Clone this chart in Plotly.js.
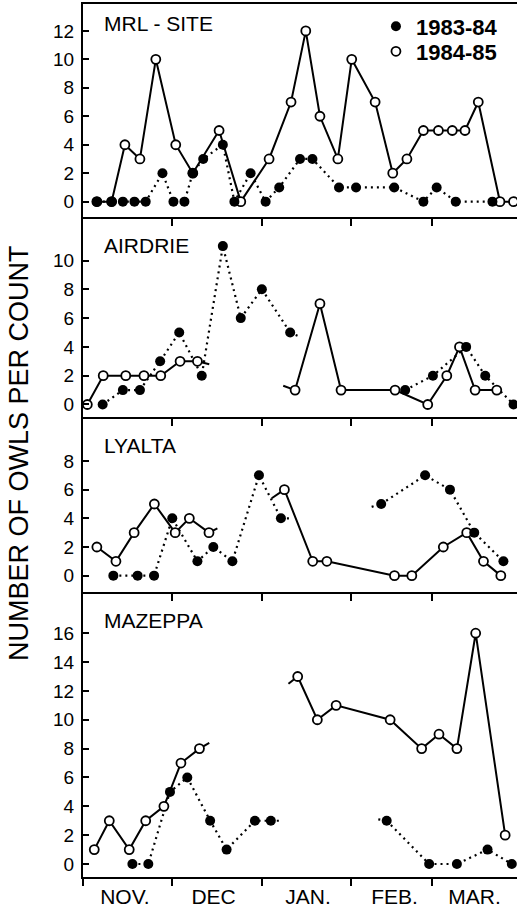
<!DOCTYPE html>
<html>
<head>
<meta charset="utf-8">
<script src="https://cdn.plot.ly/plotly-3.0.1.min.js"></script>
<style>html,body{margin:0;padding:0;background:#fff;}#chart{width:517px;height:910px;}</style>
</head>
<body>
<div id="chart"></div>
<script>
// x = days since 1 November; null = break in the series
const months = ['NOV.', 'DEC', 'JAN.', 'FEB.', 'MAR.'];
const monthLabelDays = [13.7, 44.4, 77.1, 107, 134.7];
const monthStartDays = [30, 61, 92, 120];
const panelNames = ['MRL - SITE', 'AIRDRIE', 'LYALTA', 'MAZEPPA'];
const seasonNames = ['1983-84', '1984-85'];

// MRL-SITE
const mrl83Days = [4.0, 9.1, 13.0, 17.0, 20.9, 26.7, 30.5, 34.3, 37.2, 40.8, 47.6, 51.6, 57.2, 62.4, 67.1, 74.3, 78.6, 87.8, 93.7, 106.9, 117.0, 121.6, 128.2, 140.9];
const mrl83 = [0, 0, 0, 0, 0, 2, 0, 0, 2, 3, 4, 0, 2, 0, 1, 3, 3, 1, 1, 1, 0, 1, 0, 0];
const mrl84Days = [4.0, 9.1, 13.7, 18.9, 24.4, 31.3, 37.2, 46.3, 53.8, 63.6, 71.2, 76.3, 81.2, 87.4, 92.2, 100.3, 106.4, 111.3, 117.0, 122.2, 127.0, 131.4, 136.0, 143.5, 148.2];
const mrl84 = [0, 0, 4, 3, 10, 4, 2, 5, 0, 3, 7, 12, 6, 3, 10, 7, 2, 3, 5, 5, 5, 5, 7, 0, 0];
const mrl83StubDays = [], mrl83StubCounts = [], mrl84StubDays = [], mrl84StubCounts = [];

// AIRDRIE
const air83Days = [6.0, 13.0, 18.9, 25.9, 32.5, 40.3, 47.6, 53.8, 61.1, 70.9, null, 110.7, 120.3, 131.8, 138.4, 148.2];
const air83 = [0, 1, 1, 3, 5, 2, 11, 6, 8, 5, null, 1, 2, 4, 2, 0];
const air83StubDays = [70.9, 74.3];
const air83StubCounts = [5, 4.7];
const air84Days = [0.7, 6.2, 14.0, 20.3, 26.1, 32.8, 38.8, null, 72.6, 81.2, 88.5, 107.2, 118.5, 125.1, 129.5, 134.9, 142.4];
const air84 = [0, 2, 2, 2, 2, 3, 3, null, 1, 7, 1, 1, 0, 2, 4, 1, 1];
const air84StubDays = [38.8, 42.9, null, 68.5, 72.6];
const air84StubCounts = [3, 2.8, null, 1.3, 1];

// LYALTA
const lya83Days = [9.7, 18.1, 23.8, 30.1, 38.8, 44.3, 50.9, 60.1, 67.7, null, 102.4, 117.6, 126.2, 134.6, 144.7];
const lya83 = [0, 0, 0, 4, 1, 2, 1, 7, 4, null, 5, 7, 6, 3, 1];
const lya83StubDays = [67.7, 70.9, null, 99.1, 102.4];
const lya83StubCounts = [4, 4, null, 4.8, 5];
const lya84Days = [4.0, 10.6, 16.9, 23.9, 31.1, 36.0, 42.8, null, 68.9, 78.7, 83.6, 107.0, 113.0, 123.9, 132.0, 137.8, 143.8];
const lya84 = [2, 1, 3, 5, 3, 4, 3, null, 6, 1, 1, 0, 0, 2, 3, 1, 0];
const lya84StubDays = [42.8, 45.7, null, 64.5, 68.9];
const lya84StubCounts = [3, 3.3, null, 5.4, 6];

// MAZEPPA
const maz83Days = [16.3, 21.8, 29.3, 35.3, 43.2, 48.9, 58.7, 64.2, null, 104.3, 119.0, 128.6, 139.2, 147.6];
const maz83 = [0, 0, 5, 6, 3, 1, 3, 3, null, 3, 0, 0, 1, 0];
const maz83StubDays = [64.2, 67.6, null, 101.4, 104.3];
const maz83StubCounts = [3, 3, null, 3.1, 3];
const maz84Days = [3.1, 8.3, 15.2, 20.9, 27.2, 33.1, 39.5, null, 73.5, 80.3, 86.8, 105.5, 116.4, 122.4, 128.6, 135.1, 145.3];
const maz84 = [1, 3, 1, 3, 4, 7, 8, null, 13, 10, 11, 10, 8, 9, 8, 16, 2];
const maz84StubDays = [39.5, 42.9, null, 70.3, 73.5];
const maz84StubCounts = [8, 8.4, null, 12.5, 13];

const yTicks = [[0,2,4,6,8,10,12], [0,2,4,6,8,10], [0,2,4,6,8], [0,2,4,6,8,10,12,14,16]];

const INK = '#000';
const FONT = 'Liberation Sans, Arial, Helvetica, sans-serif';
const solid = {color: INK, width: 2};
const dotted = {color: INK, width: 2.2, dash: '2px,4px'};

function panelTraces(i, d83, v83, s83d, s83v, d84, v84, s84d, s84v) {
  const xa = i === 1 ? 'x' : 'x' + i;
  const ya = i === 1 ? 'y' : 'y' + i;
  const base = {xaxis: xa, yaxis: ya, hoverinfo: 'skip', showlegend: false, connectgaps: false, cliponaxis: false};
  return [
    Object.assign({}, base, {x: d84, y: v84, mode: 'lines', line: solid}),
    Object.assign({}, base, {x: s84d, y: s84v, mode: 'lines', line: solid}),
    Object.assign({}, base, {x: d83, y: v83, mode: 'lines', line: dotted}),
    Object.assign({}, base, {x: s83d, y: s83v, mode: 'lines', line: dotted}),
    Object.assign({}, base, {x: d84, y: v84, mode: 'markers', name: seasonNames[1], legend: 'legend2', showlegend: i === 1,
      marker: {symbol: 'circle', size: 9, color: '#fff', line: {color: INK, width: 1.8}}}),
    Object.assign({}, base, {x: d83, y: v83, mode: 'markers', name: seasonNames[0], legend: 'legend', showlegend: i === 1,
      marker: {symbol: 'circle', size: 10, color: INK, line: {width: 0}}})
  ];
}

const data = [].concat(
  panelTraces(1, mrl83Days, mrl83, mrl83StubDays, mrl83StubCounts, mrl84Days, mrl84, mrl84StubDays, mrl84StubCounts),
  panelTraces(2, air83Days, air83, air83StubDays, air83StubCounts, air84Days, air84, air84StubDays, air84StubCounts),
  panelTraces(3, lya83Days, lya83, lya83StubDays, lya83StubCounts, lya84Days, lya84, lya84StubDays, lya84StubCounts),
  panelTraces(4, maz83Days, maz83, maz83StubDays, maz83StubCounts, maz84Days, maz84, maz84StubDays, maz84StubCounts)
);

const xRange = [-0.8, 149.4];
const domains = [[0.7560, 1], [0.5269, 0.7560], [0.3265, 0.5269], [0, 0.3265]];
const yRanges = [[-1.08, 13.89], [-0.87, 13.02], [-1.14, 11.07], [-0.9, 18.86]];

const legendFont = {family: FONT, size: 22, weight: 'bold', color: INK};
const layout = {
  width: 517, height: 910,
  margin: {l: 83, r: 0, t: 4, b: 33},
  paper_bgcolor: '#fff', plot_bgcolor: '#fff',
  font: {family: FONT, color: INK},
  showlegend: true,
  legend: {x: 0.675, y: 0.9742, xanchor: 'left', yanchor: 'middle', bgcolor: 'rgba(0,0,0,0)', font: legendFont, itemclick: false},
  legend2: {x: 0.675, y: 0.9456, xanchor: 'left', yanchor: 'middle', bgcolor: 'rgba(0,0,0,0)', font: legendFont, itemclick: false},
  annotations: [],
};

for (let i = 1; i <= 4; i++) {
  const xk = i === 1 ? 'xaxis' : 'xaxis' + i;
  const yk = i === 1 ? 'yaxis' : 'yaxis' + i;
  const yid = i === 1 ? 'y' : 'y' + i;
  const last = i === 4;
  layout[xk] = {
    domain: [0, 1], anchor: yid, range: xRange, showgrid: false, zeroline: false,
    showline: true, linecolor: INK, linewidth: 2, mirror: i === 1,
    matches: i === 1 ? undefined : 'x',
    ticks: last ? '' : 'outside', ticklen: 7, tickwidth: 2, tickcolor: INK,
    tickmode: 'array',
    tickvals: last ? monthLabelDays : monthStartDays,
    ticktext: last ? months : monthStartDays.map(() => ''),
    showticklabels: last,
    tickfont: {family: FONT, size: 21, color: INK},
    ticklabelstandoff: 0,
    minor: last ? {tickmode: 'array', tickvals: [xRange[0]].concat(monthStartDays), ticks: 'outside', ticklen: 7, tickwidth: 2, tickcolor: INK, showgrid: false} : undefined
  };
  layout[yk] = {
    domain: domains[i - 1], anchor: i === 1 ? 'x' : 'x' + i, range: yRanges[i - 1],
    showgrid: false, zeroline: false, showline: true, linecolor: INK, linewidth: 2,
    ticks: 'inside', ticklen: 6, tickwidth: 2, tickcolor: INK,
    tickmode: 'array', tickvals: yTicks[i - 1],
    tickfont: {family: FONT, size: 19, color: INK},
    ticklabelstandoff: 3
  };
}

const labelY = [0.9782, 0.7234, 0.4948, 0.2938];
panelNames.forEach((n, k) => {
  layout.annotations.push({text: n, xref: 'paper', yref: 'paper', x: 0.044, y: labelY[k],
    xanchor: 'left', yanchor: 'middle', showarrow: false, font: {family: FONT, size: 21, color: INK}});
});
layout.annotations.push({text: 'NUMBER OF OWLS PER COUNT', xref: 'paper', yref: 'paper', x: -0.1475, y: 0.4857,
  xanchor: 'center', yanchor: 'middle', textangle: -90, showarrow: false, font: {family: FONT, size: 27, color: INK}});

Plotly.newPlot('chart', data, layout, {staticPlot: true, displayModeBar: false});
</script>
</body>
</html>
